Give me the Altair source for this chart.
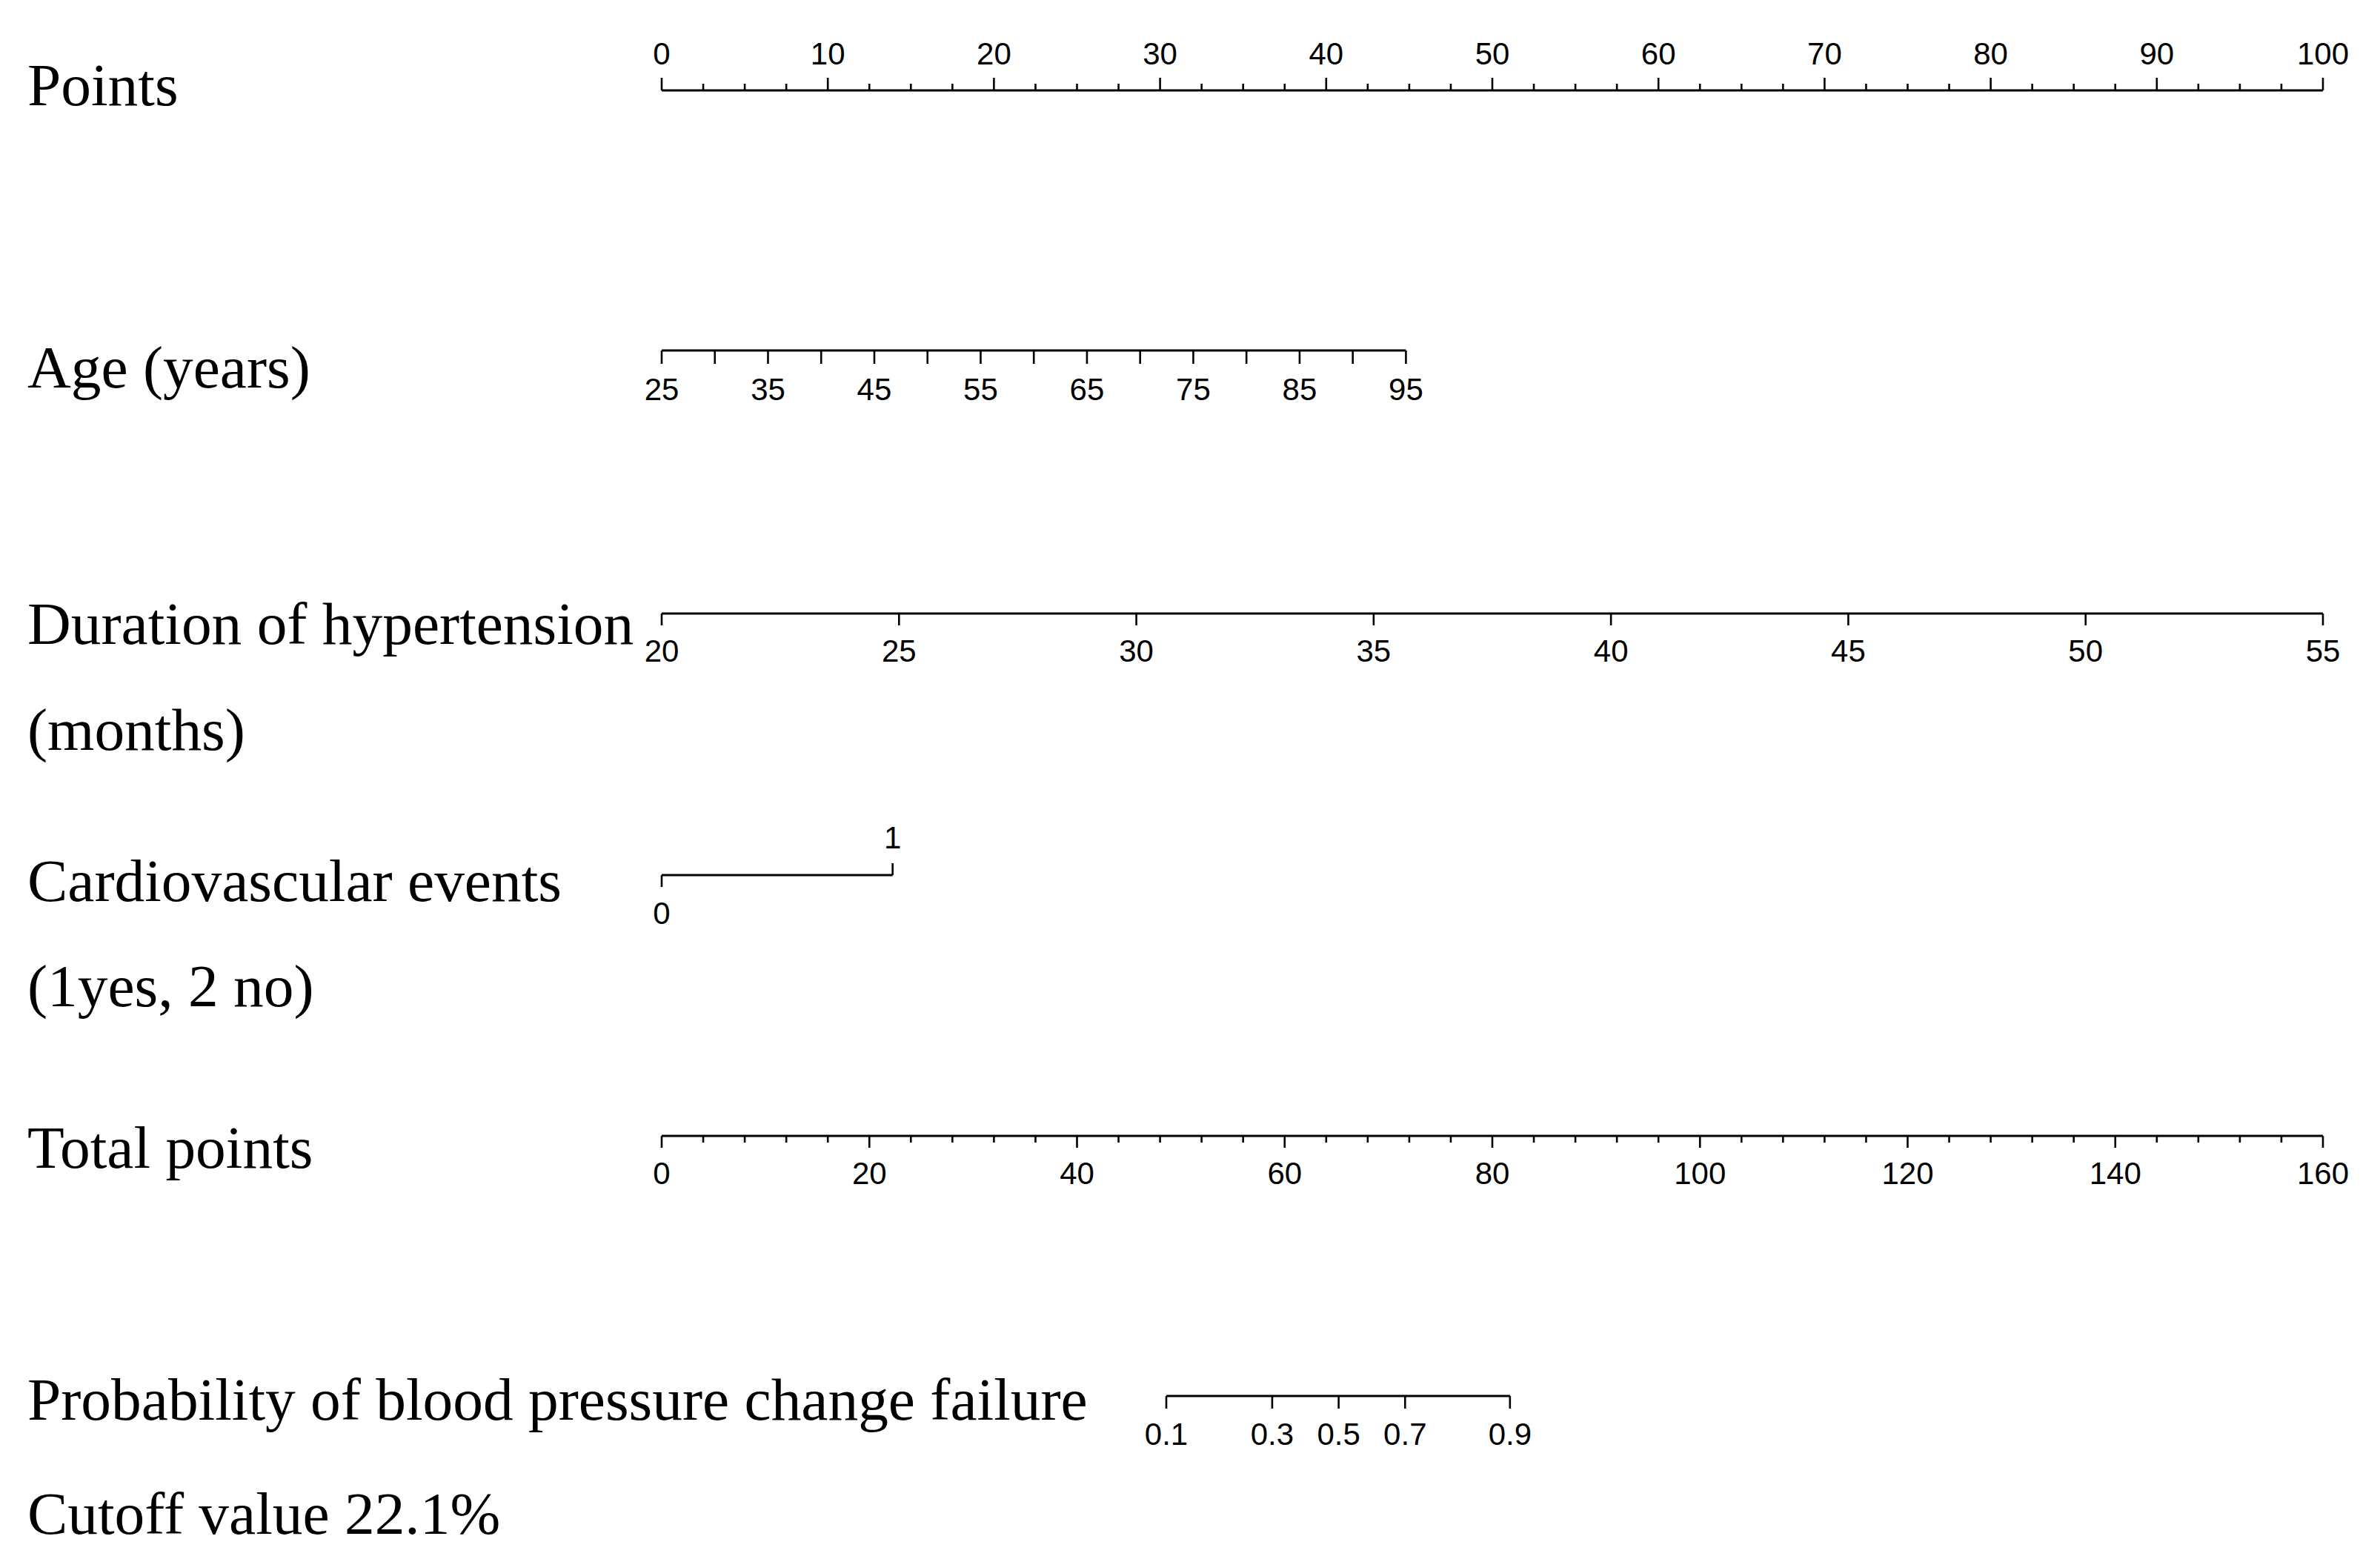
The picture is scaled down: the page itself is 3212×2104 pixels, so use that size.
import altair as alt
import pandas as pd

# ---------------- data ----------------
points_major = [0, 10, 20, 30, 40, 50, 60, 70, 80, 90, 100]
points_minor = [2.5, 5, 7.5, 12.5, 15, 17.5, 22.5, 25, 27.5, 32.5, 35, 37.5,
                42.5, 45, 47.5, 52.5, 55, 57.5, 62.5, 65, 67.5, 72.5, 75, 77.5,
                82.5, 85, 87.5, 92.5, 95, 97.5]

age_ticks = [25, 30, 35, 40, 45, 50, 55, 60, 65, 70, 75, 80, 85, 90, 95]
age_labels = [25, 35, 45, 55, 65, 75, 85, 95]
age_max_points = 44.8          # points given to age 95

duration_ticks = [20, 25, 30, 35, 40, 45, 50, 55]
duration_max_points = 100      # points given to 55 months

cardio_levels = [0, 1]
cardio_max_points = 13.9       # points given to level 1

total_major = [0, 20, 40, 60, 80, 100, 120, 140, 160]
total_minor = [4, 8, 12, 16, 24, 28, 32, 36, 44, 48, 52, 56, 64, 68, 72, 76,
               84, 88, 92, 96, 104, 108, 112, 116, 124, 128, 132, 136,
               144, 148, 152, 156]

prob_labels = ["0.1", "0.3", "0.5", "0.7", "0.9"]
prob_total_points = [48.6, 58.8, 65.2, 71.6, 81.7]

row_titles = ["Points", "Age (years)", "Duration of hypertension", "(months)",
              "Cardiovascular events", "(1yes, 2 no)", "Total points",
              "Probability of blood pressure change failure", "Cutoff value 22.1%"]

# ---------------- layout (pixels) ----------------
W, H = 3196, 2088
X0, X1 = 885, 3127            # pixel span of the 0-100 points scale


def px(points, full=100.0):
    return X0 + points / full * (X1 - X0)


SERIF = "Liberation Serif"
SANS = "Liberation Sans"
TITLE_SIZE = 81.4
TICK_FONT = 42
LINE_W = 3.2
TICK_W = 2.6


def scale(domain, rng):
    return alt.Scale(domain=domain, range=rng, nice=False, zero=False)


def axis_line(lo, hi, sc, y):
    df = pd.DataFrame({"lo": [lo], "hi": [hi]})
    return alt.Chart(df).mark_rule(color="black", strokeWidth=LINE_W).encode(
        x=alt.X("lo:Q", scale=sc, axis=None),
        x2="hi:Q",
        y=alt.value(y),
    )


def ticks(values, sc, y0, y1):
    df = pd.DataFrame({"v": values})
    return alt.Chart(df).mark_rule(color="black", strokeWidth=TICK_W).encode(
        x=alt.X("v:Q", scale=sc, axis=None),
        y=alt.value(y0),
        y2=alt.value(y1),
    )


def labels(values, texts, sc, y):
    df = pd.DataFrame({"v": values, "t": texts})
    return alt.Chart(df).mark_text(
        font=SANS, fontSize=TICK_FONT, color="black",
        align="center", baseline="alphabetic",
    ).encode(
        x=alt.X("v:Q", scale=sc, axis=None),
        y=alt.value(y),
        text="t:N",
    )


def title(text, y):
    df = pd.DataFrame({"t": [text]})
    return alt.Chart(df).mark_text(
        font=SERIF, fontSize=TITLE_SIZE, color="black",
        align="left", baseline="alphabetic",
    ).encode(
        x=alt.value(29),
        y=alt.value(y),
        text="t:N",
    )


layers = []

# Points (ticks and labels above the line)
s_pts = scale([0, 100], [X0, X1])
layers += [
    axis_line(0, 100, s_pts, 114),
    ticks(points_major, s_pts, 114, 97),
    ticks(points_minor, s_pts, 114, 105),
    labels(points_major, [str(v) for v in points_major], s_pts, 79),
]

# Age
s_age = scale([age_ticks[0], age_ticks[-1]], [X0, px(age_max_points)])
layers += [
    axis_line(age_ticks[0], age_ticks[-1], s_age, 465),
    ticks(age_ticks, s_age, 465, 483),
    labels(age_labels, [str(v) for v in age_labels], s_age, 532),
]

# Duration of hypertension
s_dur = scale([duration_ticks[0], duration_ticks[-1]], [X0, px(duration_max_points)])
layers += [
    axis_line(duration_ticks[0], duration_ticks[-1], s_dur, 820),
    ticks(duration_ticks, s_dur, 820, 836),
    labels(duration_ticks, [str(v) for v in duration_ticks], s_dur, 885),
]

# Cardiovascular events (0 below, 1 above)
s_cv = scale([0, 1], [X0, px(cardio_max_points)])
layers += [
    axis_line(cardio_levels[0], cardio_levels[1], s_cv, 1173),
    ticks([cardio_levels[0]], s_cv, 1173, 1189),
    labels([cardio_levels[0]], [str(cardio_levels[0])], s_cv, 1239),
    ticks([cardio_levels[1]], s_cv, 1173, 1157),
    labels([cardio_levels[1]], [str(cardio_levels[1])], s_cv, 1137),
]

# Total points
s_tot = scale([0, 160], [X0, X1])
layers += [
    axis_line(0, 160, s_tot, 1525),
    ticks(total_major, s_tot, 1525, 1541),
    ticks(total_minor, s_tot, 1525, 1534),
    labels(total_major, [str(v) for v in total_major], s_tot, 1590),
]

# Probability (positioned on the total-points scale)
s_prob = scale([0, 160], [X0, X1])
layers += [
    axis_line(prob_total_points[0], prob_total_points[-1], s_prob, 1876),
    ticks(prob_total_points, s_prob, 1876, 1893),
    labels(prob_total_points, prob_labels, s_prob, 1942),
]

# Row titles
title_y = [134, 515, 861, 1004, 1208, 1350, 1568, 1908, 2062]
for t, y in zip(row_titles, title_y):
    layers.append(title(t, y))

chart = (
    alt.layer(*layers)
    .resolve_scale(x="independent")
    .properties(width=W, height=H, autosize=alt.AutoSizeParams(type="none"), padding=0,
                background="white")
    .configure_view(stroke=None)
)

chart.save("out.html", embed_options={"renderer": "svg", "actions": False})
